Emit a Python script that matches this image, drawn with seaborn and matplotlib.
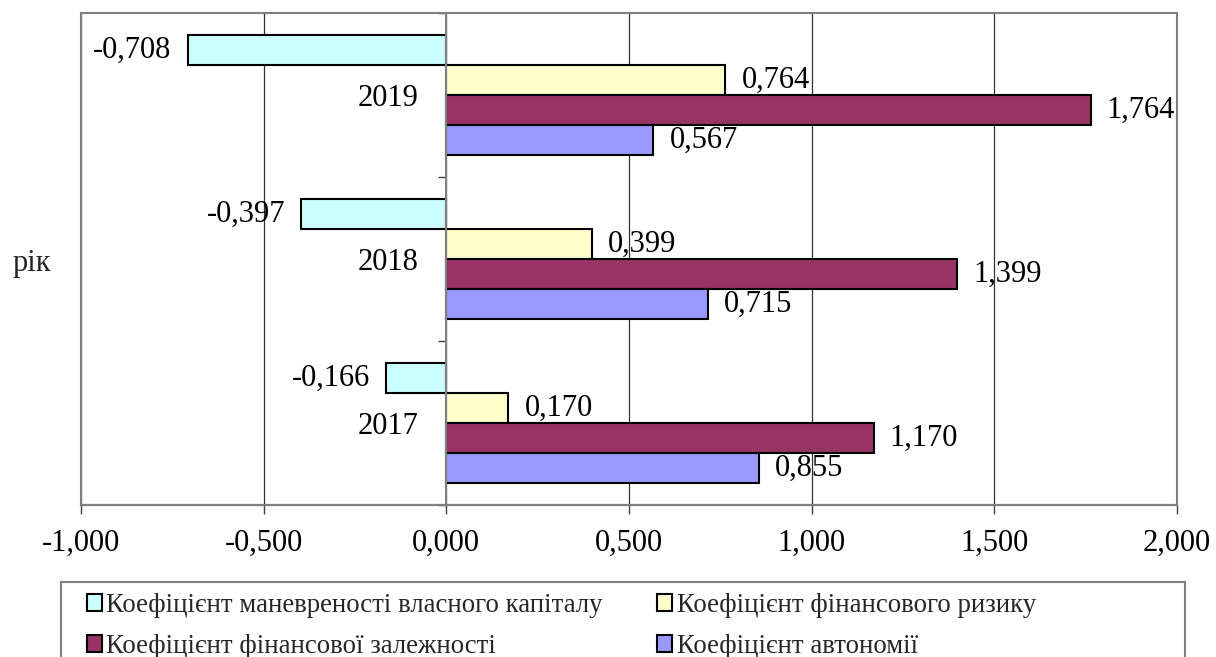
import numpy as np
import pandas as pd
import matplotlib
matplotlib.use("Agg")
import matplotlib.pyplot as plt
from matplotlib.patches import Rectangle
from matplotlib.ticker import FixedLocator, FixedFormatter, NullFormatter
import seaborn as sns

# ---- data -------------------------------------------------------------
years = ["2019", "2018", "2017"]
series_names = [
    "Коефіцієнт маневреності власного капіталу",
    "Коефіцієнт фінансового ризику",
    "Коефіцієнт фінансової залежності",
    "Коефіцієнт автономії",
]
manoeuvrability = [-0.708, -0.397, -0.166]
financial_risk = [0.764, 0.399, 0.170]
financial_dependence = [1.764, 1.399, 1.170]
autonomy = [0.567, 0.715, 0.855]
x_ticks = [-1.0, -0.5, 0.0, 0.5, 1.0, 1.5, 2.0]

colors = ["#CCFFFF", "#FFFFCC", "#993366", "#9999FF"]


def fmt(v):
    return f"{v:.3f}".replace(".", ",")


series_values = [manoeuvrability, financial_risk, financial_dependence, autonomy]
rows = []
for name, vals in zip(series_names, series_values):
    for yr, v in zip(years, vals):
        rows.append({"рік": yr, "значення": v, "показник": name})
df = pd.DataFrame(rows)

# ---- style ------------------------------------------------------------
sns.set_theme(style="white")
plt.rcParams["font.family"] = ["Liberation Serif", "DejaVu Serif"]

W, H = 1216, 657
fig = plt.figure(figsize=(W / 100, H / 100), dpi=100)
ax = fig.add_axes([81 / W, 1 - 505 / H, (1177 - 81) / W, (505 - 13) / H])

sns.barplot(
    data=df, x="значення", y="рік", hue="показник",
    order=years, hue_order=series_names, palette=colors,
    orient="h", width=0.73, saturation=1,
    edgecolor="black", linewidth=1.5, legend=False, ax=ax, zorder=3,
)

# value labels
for cont in ax.containers:
    ax.bar_label(cont, labels=[fmt(v) for v in cont.datavalues],
                 padding=11.5, fontsize=22, color="black")

ax.set_xlim(-1, 2)
ax.set_ylim(2.5, -0.5)
ax.set_xticks(x_ticks)
ax.set_xticklabels([fmt(t) for t in x_ticks])
ax.tick_params(axis="x", direction="out", length=6.5, width=1,
               color="#404040", pad=11, labelsize=22, labelcolor="black",
               bottom=True)
ax.xaxis.grid(True, color="#333333", lw=0.9)
ax.yaxis.grid(False)
ax.set_axisbelow(True)
ax.set_xlabel("")

# category axis crosses the value axis at zero
ax.spines["left"].set_position(("data", 0))
ax.spines["left"].set_color("#808080")
ax.spines["left"].set_linewidth(1.5)
ax.spines["left"].set_zorder(4)
ax.spines["top"].set_visible(False)
ax.spines["right"].set_visible(False)
ax.spines["bottom"].set_color("#404040")
ax.spines["bottom"].set_linewidth(1.5)

ax.yaxis.set_major_locator(FixedLocator([-0.5, 0.5, 1.5, 2.5]))
ax.yaxis.set_major_formatter(NullFormatter())
ax.yaxis.set_minor_locator(FixedLocator([0, 1, 2]))
ax.yaxis.set_minor_formatter(FixedFormatter(years))
ax.tick_params(axis="y", which="major", direction="out", length=6,
               width=1, color="#404040", left=True)
ax.tick_params(axis="y", which="minor", length=0, pad=20, labelsize=22,
               labelcolor="black", left=True)

ax.set_ylabel("рік", rotation=0, fontsize=22, ha="center", va="center")
ax.yaxis.set_label_coords((32 - 81) / (1177 - 81), (505 - 263) / (505 - 13))

# plot-area frame
ax.add_patch(Rectangle((0, 0), 1, 1, transform=ax.transAxes, fill=False,
                       edgecolor="#808080", lw=1.5, clip_on=False, zorder=5))

# legend
handles = [Rectangle((0, 0), 1, 1, facecolor=c, edgecolor="black", lw=1.5)
           for c in colors]
order = [0, 2, 1, 3]
fig.legend([handles[i] for i in order], [series_names[i] for i in order],
           ncol=2, loc="upper left", bbox_to_anchor=(87 / W, 1 - 593 / H),
           frameon=False, fontsize=19.3, handlelength=0.56, handleheight=0.56,
           handletextpad=0.15, columnspacing=2.05, labelspacing=0.6,
           borderpad=0, borderaxespad=0)
fig.add_artist(Rectangle((61 / W, -0.05), (1185 - 61) / W, (1 - 582 / H) + 0.05,
                         transform=fig.transFigure, fill=False,
                         edgecolor="#808080", lw=1.5))

fig.savefig("out.png", dpi=100)
